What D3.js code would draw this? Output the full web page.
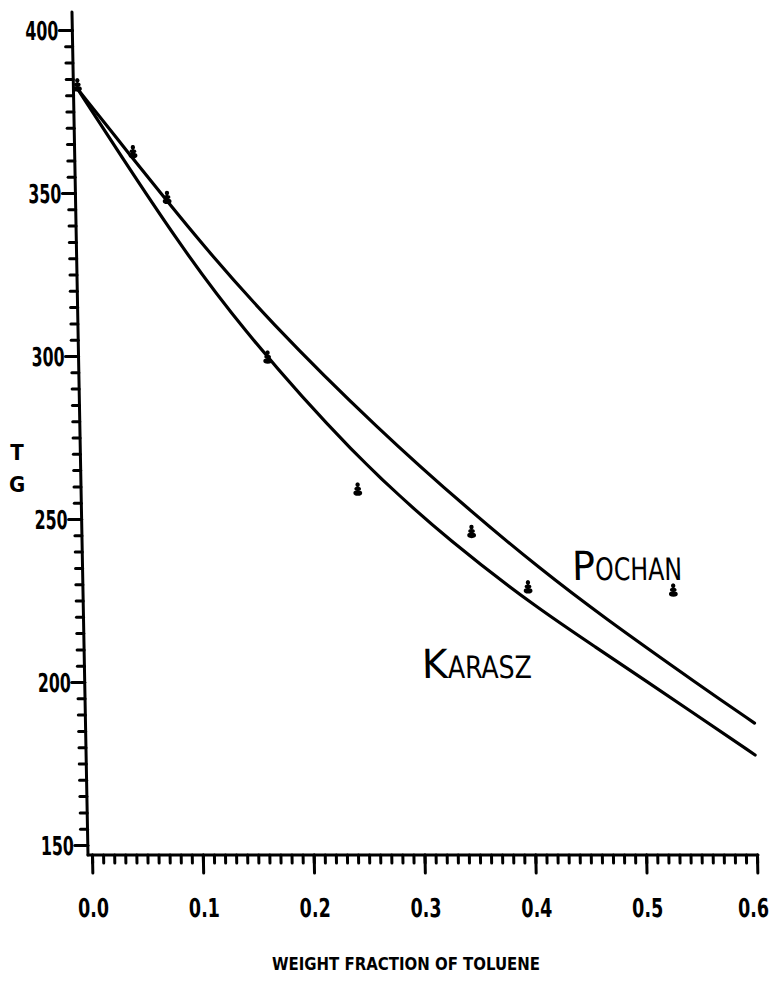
<!DOCTYPE html>
<html>
<head>
<meta charset="utf-8">
<script src="https://cdn.jsdelivr.net/npm/d3@7/dist/d3.min.js"></script>
<style>
  html, body { margin: 0; padding: 0; background: #fff; }
  svg { display: block; }
  .tick text { font-family: "Liberation Sans Narrow", "DejaVu Sans Condensed", sans-serif; font-weight: bold; fill: #000; }
</style>
</head>
<body>
<svg id="chart" width="780" height="986"></svg>
<script>
// Measured glass transition temperatures vs. toluene weight fraction
const sampleFraction = [0.0, 0.049, 0.079, 0.167, 0.246, 0.348, 0.398, 0.529];
const sampleTg       = [383, 362.5, 348.5, 299.5, 259, 246, 229, 228];

// Model curves
const pochanFraction = [0.0, 0.049, 0.079, 0.107, 0.168, 0.267, 0.347, 0.41, 0.463, 0.553, 0.6];
const pochanTg       = [382, 360.5, 347.5, 335.5, 311, 277, 252.5, 234.5, 220.5, 198.5, 187.4];
const karaszFraction = [0.0, 0.037, 0.087, 0.14, 0.2425, 0.332, 0.409, 0.448, 0.5525, 0.6];
const karaszTg       = [382, 362, 335.6, 310.1, 269.5, 242, 222, 213, 188.8, 177.6];

// Axis ticks
const xTickValues = [0, 0.1, 0.2, 0.3, 0.4, 0.5, 0.6];
const xTickLabels = ["0.0", "0.1", "0.2", "0.3", "0.4", "0.5", "0.6"];
const yTickValues = [150, 200, 250, 300, 350, 400];
const yTickLabels = ["150", "200", "250", "300", "350", "400"];

const svg = d3.select("#chart");
const baseY = 855;           // x-axis line
const axisX = 88;            // y-axis line
const x = d3.scaleLinear().domain([0, 0.6]).range([92, 757]);
const y = d3.scaleLinear().domain([150, 400]).range([845, 30]);

// slight shear of the plotting frame (leans left toward the top)
const shear = Math.atan(0.019) * 180 / Math.PI;
const g = svg.append("g")
  .attr("transform", `translate(0,${baseY}) skewX(${shear}) translate(0,${-baseY})`);

// ---- Y axis ----
g.append("line")
  .attr("x1", axisX).attr("x2", axisX).attr("y1", 12).attr("y2", baseY)
  .attr("stroke", "#000").attr("stroke-width", 3).attr("stroke-linecap", "round");

const yMinor = g.append("g").attr("transform", `translate(${axisX},0)`)
  .call(d3.axisLeft(y).tickValues(d3.range(150, 401, 5)).tickSize(7).tickFormat(""));
const yMajor = g.append("g").attr("transform", `translate(${axisX},0)`)
  .call(d3.axisLeft(y).tickValues(yTickValues).tickSize(13).tickPadding(1)
    .tickFormat((d, i) => yTickLabels[i]));
[yMinor, yMajor].forEach(a => {
  a.select(".domain").remove();
  a.selectAll(".tick line").attr("stroke", "#000").attr("stroke-width", 3).attr("stroke-linecap", "round");
});
yMajor.selectAll(".tick text").attr("font-size", 26).attr("dy", "0.36em")
  .attr("textLength", 33).attr("lengthAdjust", "spacingAndGlyphs");

// ---- X axis ----
g.append("line")
  .attr("x1", axisX).attr("x2", x(0.6) + 1).attr("y1", baseY).attr("y2", baseY)
  .attr("stroke", "#000").attr("stroke-width", 3).attr("stroke-linecap", "round");

const xMinor = g.append("g").attr("transform", `translate(0,${baseY})`)
  .call(d3.axisBottom(x).tickValues(d3.range(0, 61).map(i => i / 100)).tickSize(8).tickFormat(""));
const xMajor = g.append("g").attr("transform", `translate(0,${baseY})`)
  .call(d3.axisBottom(x).tickValues(xTickValues).tickSize(18).tickPadding(26)
    .tickFormat((d, i) => xTickLabels[i]));
[xMinor, xMajor].forEach(a => {
  a.select(".domain").remove();
  a.selectAll(".tick line").attr("stroke", "#000").attr("stroke-width", 3).attr("stroke-linecap", "round");
});
xMajor.selectAll(".tick text").attr("font-size", 26)
  .attr("textLength", 31).attr("lengthAdjust", "spacingAndGlyphs")
  .attr("dx", (d, i, nodes) => i === nodes.length - 1 ? -5 : 0);

// ---- Curves ----
const line = d3.line().x(d => x(d[0])).y(d => y(d[1])).curve(d3.curveBasis);
const pochan = pochanFraction.map((f, i) => [f, pochanTg[i]]);
const karasz = karaszFraction.map((f, i) => [f, karaszTg[i]]);
[pochan, karasz].forEach(series => {
  g.append("path").datum(series).attr("d", line)
    .attr("fill", "none").attr("stroke", "#000").attr("stroke-width", 3.2)
    .attr("stroke-linecap", "round").attr("stroke-linejoin", "round");
});

// ---- Measured points ----
const samples = sampleFraction.map((f, i) => [f, sampleTg[i]]);
const mk = g.selectAll(".marker").data(samples).join("g")
  .attr("class", "marker")
  .attr("transform", d => `translate(${x(d[0])},${y(d[1])})`);
mk.append("ellipse").attr("cx", 0).attr("cy", -5).attr("rx", 2.2).attr("ry", 2.2).attr("fill", "#000");
mk.append("ellipse").attr("cx", 0).attr("cy", -1).attr("rx", 3.3).attr("ry", 2).attr("fill", "#000");
mk.append("ellipse").attr("cx", 0).attr("cy", 3.3).attr("rx", 4.4).attr("ry", 2.8).attr("fill", "#000");
mk.append("rect").attr("x", -0.9).attr("y", -7).attr("width", 1.8).attr("height", 12).attr("fill", "#000");

// ---- Curve labels (large initial, small capitals after) ----
const labelFont = "'Liberation Sans Narrow', 'DejaVu Sans Condensed', sans-serif";
function smallCaps(first, rest, fx, ty, w1, w2) {
  const x0 = x(fx);
  const t = g.append("text")
    .attr("y", y(ty))
    .attr("font-family", labelFont)
    .attr("fill", "#000");
  t.append("tspan").attr("x", x0).attr("font-size", 40)
    .attr("textLength", w1).attr("lengthAdjust", "spacingAndGlyphs").text(first);
  t.append("tspan").attr("x", x0 + w1).attr("font-size", 31)
    .attr("textLength", w2).attr("lengthAdjust", "spacingAndGlyphs").text(rest);
}
smallCaps("P", "OCHAN", 0.438, 231.3, 23, 87);
smallCaps("K", "ARASZ", 0.3008, 201.2, 26, 84);

// ---- Axis titles ----
svg.append("text").attr("x", 17).attr("y", 460).attr("text-anchor", "middle")
  .attr("font-family", labelFont).attr("font-weight", "bold").attr("font-size", 22).text("T");
svg.append("text").attr("x", 17).attr("y", 492).attr("text-anchor", "middle")
  .attr("font-family", labelFont).attr("font-weight", "bold").attr("font-size", 22).text("G");
svg.append("text").attr("x", 272).attr("y", 970)
  .attr("textLength", 268).attr("lengthAdjust", "spacingAndGlyphs")
  .attr("font-family", labelFont).attr("font-weight", "bold").attr("font-size", 18)
  .text("WEIGHT FRACTION OF TOLUENE");
</script>
</body>
</html>
